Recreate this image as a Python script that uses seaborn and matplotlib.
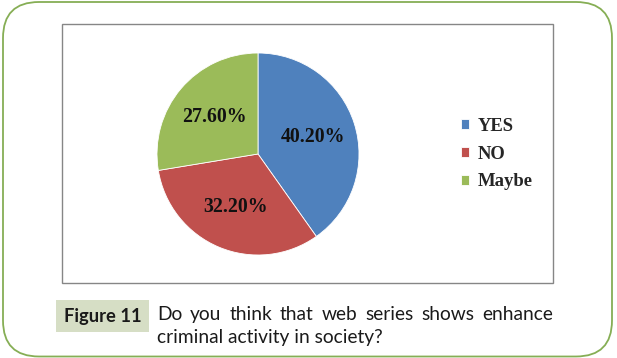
import matplotlib
matplotlib.use("Agg")
import matplotlib.pyplot as plt
import seaborn as sns
from matplotlib.patches import FancyBboxPatch, Rectangle

categories = ["YES", "NO", "Maybe"]
values = [40.2, 32.2, 27.6]
colors = ["#4F81BD", "#C0504D", "#9BBB59"]
caption_label = "Figure 11"
caption_lines = ["Do you think that web series shows enhance",
                 "criminal activity in society?"]

sns.set_style("white")
W, H = 617, 358
fig = plt.figure(figsize=(W / 100, H / 100), dpi=100)
fig.patch.set_facecolor("white")

bg = fig.add_axes([0, 0, 1, 1])
bg.set_xlim(0, W)
bg.set_ylim(H, 0)
bg.axis("off")

# outer rounded frame
bg.add_patch(FancyBboxPatch((3, 2), 609, 354.5,
                            boxstyle="round,pad=0,rounding_size=36",
                            facecolor="none", edgecolor="#86AE55", linewidth=1.3))
# chart area frame
bg.add_patch(Rectangle((62, 24), 491, 259, facecolor="white",
                       edgecolor="#868686", linewidth=1.0))

# pie
cx, cy, R = 258, 154, 101
ax = fig.add_axes([(cx - R) / W, (H - cy - R) / H, 2 * R / W, 2 * R / H])
wedges, texts, autotexts = ax.pie(
    values, colors=colors, startangle=90, counterclock=False,
    autopct="%.2f%%", pctdistance=0.57,
    textprops=dict(fontfamily="Liberation Serif", fontweight="bold",
                   fontsize=14.3, color="#111111"),
    wedgeprops=dict(edgecolor="white", linewidth=0.6))
ax.set_xlim(-1, 1)
ax.set_ylim(-1, 1)
ax.set_aspect("equal")
ax.axis("off")

fig.legend(wedges, categories, loc="center left",
           bbox_to_anchor=(461 / W, 1 - 154 / H),
           frameon=False, borderpad=0, borderaxespad=0,
           handlelength=0.45, handleheight=0.45, handletextpad=0.45,
           labelspacing=0.58,
           prop=dict(family="Liberation Serif", weight="bold", size=13.4))

# caption
bg.add_patch(Rectangle((56, 300), 93, 32, facecolor="#D6DEC5", edgecolor="none"))
bg.text(102.5, 316.5, caption_label, ha="center", va="center",
        fontfamily="Lato", fontweight="bold", fontsize=13.2, color="#1a1a1a")

cap_kw = dict(fontfamily="Lato", fontsize=13.8, color="#1a1a1a", va="baseline")
fig.canvas.draw()
renderer = fig.canvas.get_renderer()


def justify(line, x0, x1, y):
    words = line.split()
    ts = [bg.text(0, y, w, **cap_kw) for w in words]
    widths = [t.get_window_extent(renderer).width for t in ts]
    gap = (x1 - x0 - sum(widths)) / (len(words) - 1)
    x = x0
    for t, w in zip(ts, widths):
        t.set_x(x)
        x += w + gap


justify(caption_lines[0], 157, 553, 320)
bg.text(157, 343, caption_lines[1], **cap_kw)

fig.savefig("out.png", dpi=100, facecolor="white")
